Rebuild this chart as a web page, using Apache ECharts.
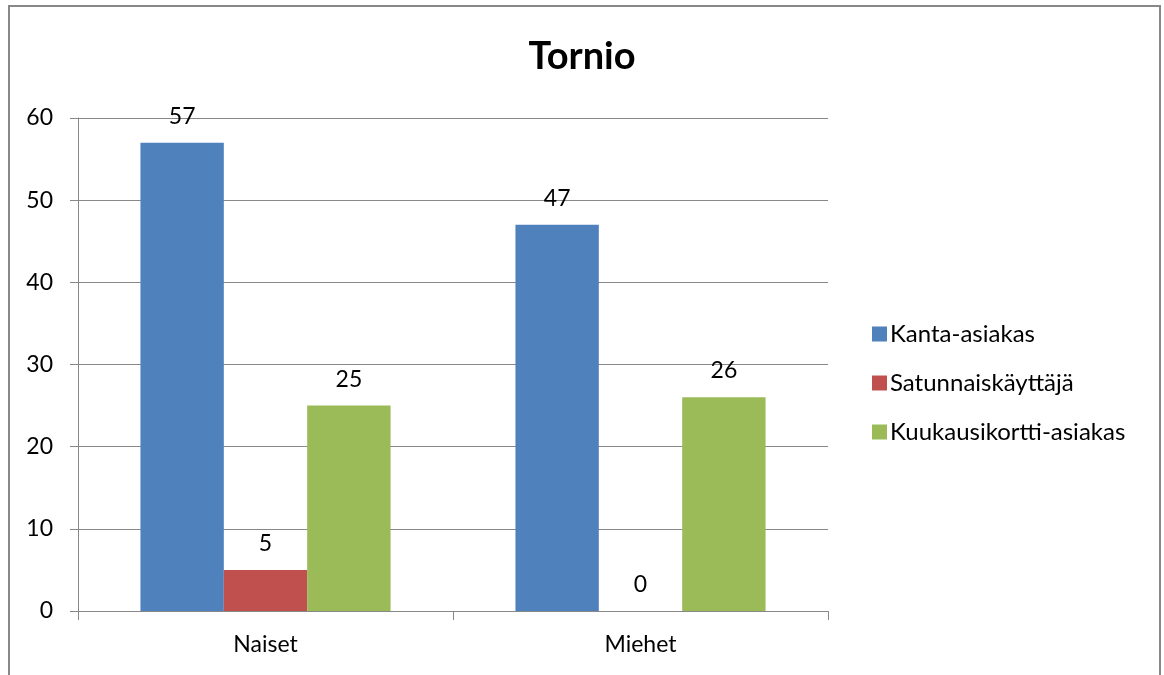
<!DOCTYPE html>
<html><head><meta charset="utf-8">
<script src="https://cdn.jsdelivr.net/npm/echarts@6/dist/echarts.min.js"></script>
<style>html,body{margin:0;padding:0;background:#fff}#c{width:1164px;height:675px}</style>
</head><body><div id="c"></div>
<script>
const categories = ['Naiset', 'Miehet'];
const seriesNames = ['Kanta-asiakas', 'Satunnaiskäyttäjä', 'Kuukausikortti-asiakas'];
const kanta = [57, 47];
const satunnais = [5, 0];
const kuukausi = [25, 26];
const colors = ['#4F81BD', '#C0504D', '#9BBB59'];
const font = 'Lato, "Liberation Sans", sans-serif';

const chart = echarts.init(document.getElementById('c'));
const mk = (name, data, color) => ({
  name, type: 'bar', data, barGap: 0, barCategoryGap: '33.3%',
  itemStyle: { color },
  label: { show: true, position: 'top', distance: 15, fontSize: 23, color: '#000', fontFamily: font }
});
chart.setOption({
  animation: false,
  title: { text: 'Tornio', left: 577, top: 33, textAlign: 'center',
    textStyle: { fontSize: 38, fontWeight: 'bold', color: '#000', fontFamily: font } },
  graphic: [{ type: 'rect', shape: { x: 9, y: 6, width: 1151, height: 720 },
    style: { fill: 'none', stroke: '#888', lineWidth: 2 }, silent: true }],
  legend: { orient: 'vertical', left: 867, top: 317, itemWidth: 15, itemHeight: 15, itemGap: 25,
    icon: 'rect', textStyle: { fontSize: 24, color: '#000', fontFamily: font, padding: [0,0,0,-2] },
    data: seriesNames },
  grid: { left: 78, right: 336, top: 118, bottom: 64 },
  xAxis: { type: 'category', data: categories,
    axisLine: { lineStyle: { color: '#888', width: 1 } },
    axisTick: { show: true, length: 9, alignWithLabel: false, lineStyle: { color: '#888' } },
    axisLabel: { fontSize: 23, color: '#000', margin: 22, fontFamily: font } },
  yAxis: { type: 'value', min: 0, max: 60, interval: 10,
    axisLine: { show: true, lineStyle: { color: '#888', width: 1 } },
    axisTick: { show: true, length: 8, lineStyle: { color: '#888' } },
    splitLine: { lineStyle: { color: '#888', width: 1 } },
    axisLabel: { fontSize: 23, color: '#000', margin: 25, fontFamily: font } },
  series: [mk(seriesNames[0], kanta, colors[0]), mk(seriesNames[1], satunnais, colors[1]), mk(seriesNames[2], kuukausi, colors[2])]
});
</script></body></html>
